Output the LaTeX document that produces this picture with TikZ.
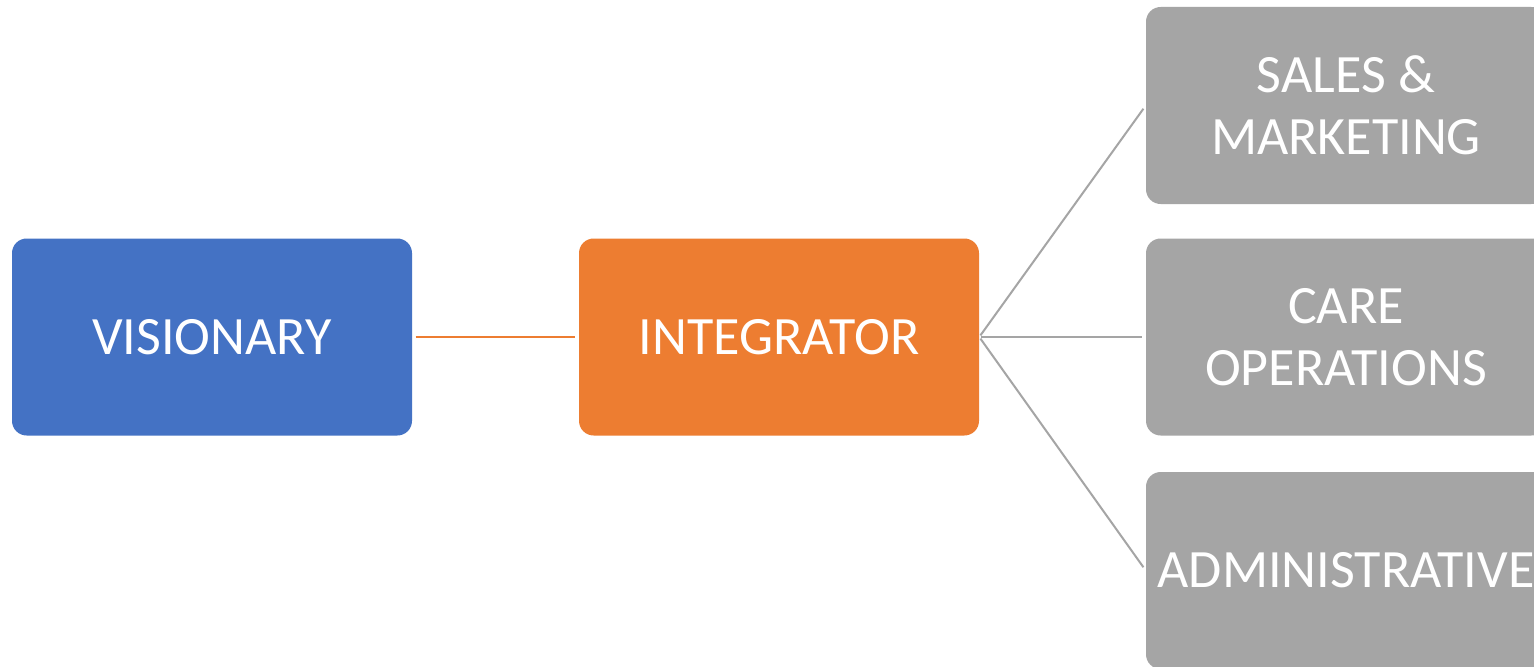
\documentclass[tikz,border=0pt]{standalone}
\usepackage{fontspec}
\setmainfont{Carlito}
\definecolor{visblue}{HTML}{4472C4}
\definecolor{intorange}{HTML}{ED7D31}
\definecolor{deptgray}{HTML}{A5A5A5}
\tikzset{
  box/.style={rectangle, rounded corners=11pt, inner sep=0pt,
    minimum width=300pt, minimum height=147.75pt, text=white,
    align=center, font=\fontsize{40.5}{46.5}\selectfont},
  link/.style={line width=1.5pt},
}
\begin{document}
\begin{tikzpicture}[x=0.75pt, y=-0.75pt]
  \clip (0,0) rectangle (1534,667);
  \fill[white] (0,0) rectangle (1534,667);

  \node[box, fill=visblue]    (vis)   at (212,337)   {VISIONARY};
  \node[box, fill=intorange]  (int)   at (779,337)   {INTEGRATOR};
  \node[box, fill=deptgray]   (sales) at (1346,105.5) {SALES \&\\MARKETING};
  \node[box, fill=deptgray]   (care)  at (1346,337)  {CARE\\OPERATIONS};
  \node[box, fill=deptgray]   (admin) at (1346,570.5) {ADMINISTRATIVE};

  \draw[link, intorange, shorten <=2.5pt, shorten >=2.5pt] (vis.east) -- (int.west);
  \draw[link, deptgray, shorten <=1.5pt, shorten >=3pt] (int.east) -- (sales.west);
  \draw[link, deptgray, shorten <=1.5pt, shorten >=3pt] (int.east) -- (care.west);
  \draw[link, deptgray, shorten <=1.5pt, shorten >=3pt] (int.east) -- (admin.west);
\end{tikzpicture}
\end{document}
